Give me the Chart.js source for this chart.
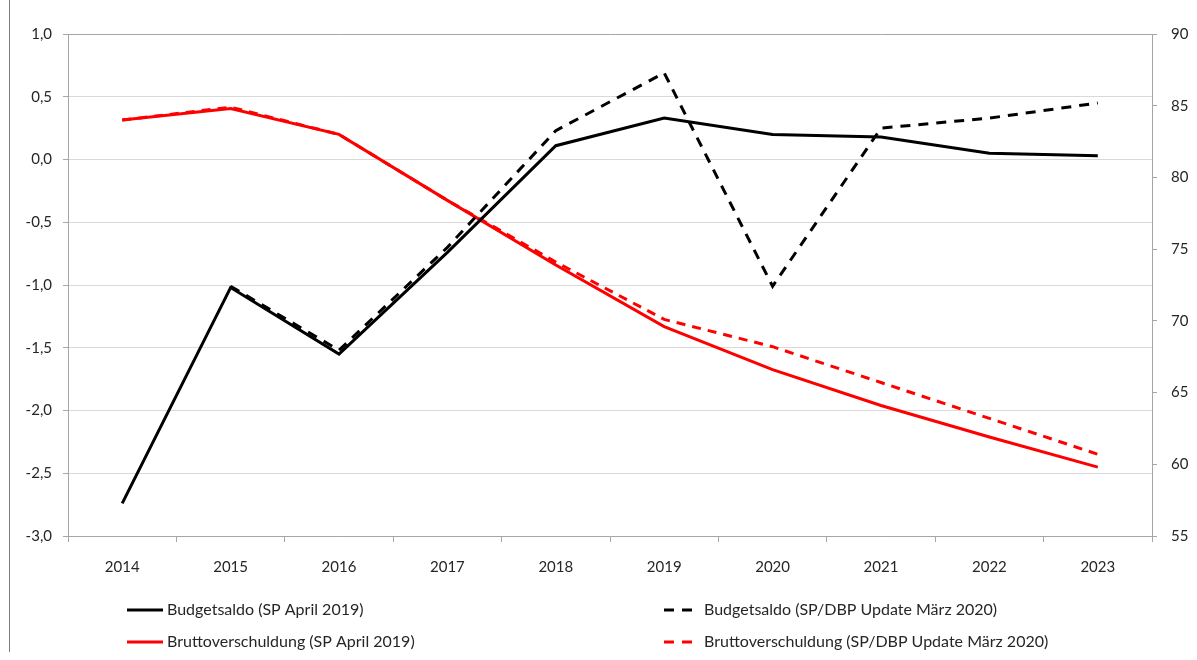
<!DOCTYPE html>
<html>
<head>
<meta charset="utf-8">
<script src="https://cdn.jsdelivr.net/npm/chart.js@4.4.1/dist/chart.umd.min.js"></script>
<style>
  html, body { margin: 0; padding: 0; background: #fff; }
  #wrap { position: relative; width: 1197px; height: 660px; }
  #frame { position: absolute; left: 9px; top: 0; width: 1px; height: 652px; background: #7f7f7f; }
  canvas { position: absolute; left: 0; top: 0; }
</style>
</head>
<body>
<div id="wrap">
  <canvas id="c" width="1197" height="660"></canvas>
  <div id="frame"></div>
</div>
<script>
const years = ['2014','2015','2016','2017','2018','2019','2020','2021','2022','2023'];
const budgetSP2019 = [-2.74, -1.02, -1.55, -0.74, 0.11, 0.33, 0.20, 0.18, 0.05, 0.03];
const budgetUpd2020 = [null, -1.01, -1.52, -0.70, 0.23, 0.69, -1.01, 0.25, 0.33, 0.45];
const debtSP2019 = [84.0, 84.8, 83.0, 78.4, 73.9, 69.6, 66.6, 64.1, 61.9, 59.8];
const debtUpd2020 = [84.0, 84.9, 83.0, 78.4, 74.1, 70.1, 68.2, 65.7, 63.2, 60.7];
const leftTicks = [-3.0, -2.5, -2.0, -1.5, -1.0, -0.5, 0.0, 0.5, 1.0];
const rightTicks = [55, 60, 65, 70, 75, 80, 85, 90];
const labels = [
  'Budgetsaldo (SP April 2019)',
  'Budgetsaldo (SP/DBP Update März 2020)',
  'Bruttoverschuldung (SP April 2019)',
  'Bruttoverschuldung (SP/DBP Update März 2020)'
];

const FONT = 'Lato, "Open Sans", sans-serif';

const legendPlugin = {
  id: 'customLegend',
  afterDraw(chart) {
    const ctx = chart.ctx;
    const ds = chart.data.datasets;
    const slots = [
      {i: 0, x: 127, y: 610}, {i: 1, x: 664, y: 610},
      {i: 2, x: 127, y: 642}, {i: 3, x: 664, y: 642}
    ];
    ctx.save();
    ctx.font = '16px ' + FONT;
    ctx.textBaseline = 'middle';
    slots.forEach(s => {
      const d = ds[s.i];
      ctx.beginPath();
      ctx.strokeStyle = d.borderColor;
      ctx.lineWidth = 3;
      ctx.setLineDash(d.borderDash && d.borderDash.length ? [10, 8] : []);
      ctx.moveTo(s.x, s.y);
      ctx.lineTo(s.x + 36, s.y);
      ctx.stroke();
      ctx.setLineDash([]);
      ctx.fillStyle = '#262626';
      ctx.fillText(d.label, s.x + 40, s.y);
    });
    ctx.restore();
  }
};

new Chart(document.getElementById('c'), {
  type: 'line',
  data: {
    labels: years,
    datasets: [
      {label: labels[0], data: budgetSP2019, yAxisID: 'y', borderColor: '#000000', borderWidth: 3, pointRadius: 0, tension: 0, order: 2},
      {label: labels[1], data: budgetUpd2020, yAxisID: 'y', borderColor: '#000000', borderWidth: 3, borderDash: [10, 8], pointRadius: 0, tension: 0, order: 1},
      {label: labels[2], data: debtSP2019, yAxisID: 'y2', borderColor: '#ff0000', borderWidth: 3, pointRadius: 0, tension: 0, order: 4},
      {label: labels[3], data: debtUpd2020, yAxisID: 'y2', borderColor: '#ff0000', borderWidth: 3, borderDash: [9, 7], pointRadius: 0, tension: 0, order: 3}
    ]
  },
  options: {
    responsive: false,
    animation: false,
    events: [],
    layout: { padding: { left: 0, right: 0, top: 34, bottom: 68 } },
    plugins: { legend: { display: false }, tooltip: { enabled: false } },
    scales: {
      x: {
        offset: true,
        grid: { display: true, offset: true, drawOnChartArea: false, tickLength: 6, color: '#a6a6a6' },
        border: { color: '#a6a6a6', width: 1 },
        ticks: { color: '#262626', font: { family: FONT, size: 15 }, padding: 16, maxRotation: 0 }
      },
      y: {
        position: 'left',
        min: -3, max: 1,
        afterBuildTicks: s => { s.ticks = leftTicks.map(v => ({value: v})); },
        afterFit: s => { s.width = 68; },
        grid: {
          color: c => (c.tick && c.tick.value === 1) ? '#a6a6a6' : '#d9d9d9',
          tickColor: '#a6a6a6',
          tickLength: 5
        },
        border: { color: '#a6a6a6' },
        ticks: {
          color: '#262626', font: { family: FONT, size: 15 }, padding: 11,
          callback: v => Number(v).toFixed(1).replace('.', ',')
        }
      },
      y2: {
        position: 'right',
        min: 55, max: 90,
        afterBuildTicks: s => { s.ticks = rightTicks.map(v => ({value: v})); },
        afterFit: s => { s.width = 45; },
        grid: { drawOnChartArea: false, color: '#a6a6a6', tickLength: 5 },
        border: { color: '#a6a6a6' },
        ticks: { color: '#262626', font: { family: FONT, size: 15 }, padding: 14 }
      }
    }
  },
  plugins: [legendPlugin]
});
</script>
</body>
</html>
